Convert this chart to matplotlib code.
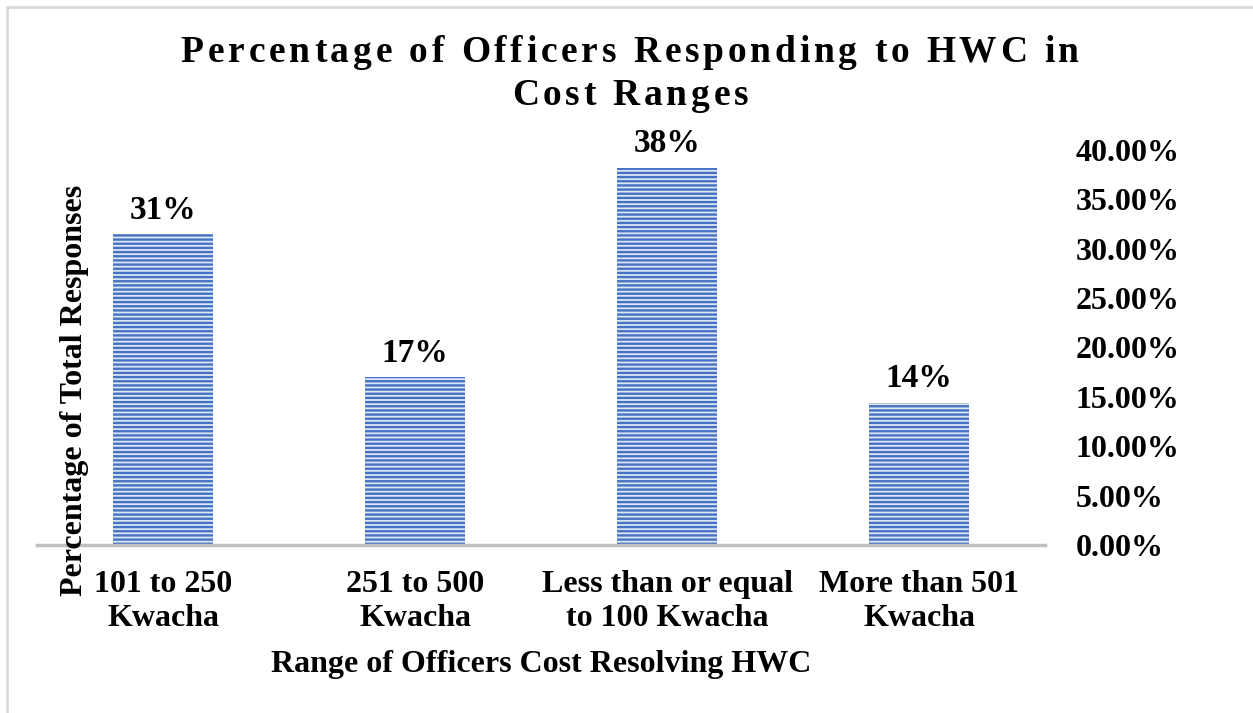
import matplotlib.pyplot as plt
from matplotlib.patches import Rectangle
from matplotlib.font_manager import FontProperties

categories = ['101 to 250\nKwacha', '251 to 500\nKwacha',
              'Less than or equal\nto 100 Kwacha', 'More than 501\nKwacha']
shares = [0.315, 0.170, 0.382, 0.144]
bar_labels = ['31%', '17%', '38%', '14%']
yticks = [0.0, 0.05, 0.10, 0.15, 0.20, 0.25, 0.30, 0.35, 0.40]
title_lines = ['Percentage of Officers Responding to HWC in', 'Cost Ranges']

plt.rcParams['font.family'] = ['Liberation Serif', 'DejaVu Serif']
plt.rcParams['font.weight'] = 'bold'
plt.rcParams['hatch.linewidth'] = 1.7

W, H = 1253, 713
fig = plt.figure(figsize=(W / 100, H / 100), dpi=100)
fig.patches.append(Rectangle((7 / W, -0.1), 1.1, 1.1 - 7 / H,
                             transform=fig.transFigure, fill=False,
                             edgecolor='#d9d9d9', linewidth=2))
ax = fig.add_axes([37 / W, 1 - 545 / H, 1008 / W, 395 / H])

x = range(len(categories))
bars = ax.bar(x, shares, width=0.4, color='#dde6f5', edgecolor='#4472c4',
              hatch='----', linewidth=0)
for b, lab in zip(bars, bar_labels):
    ax.annotate(lab, (b.get_x() + b.get_width() / 2, b.get_height()),
                xytext=(0, 6), textcoords='offset points',
                ha='center', va='bottom', fontsize=24, fontweight='bold')

ax.set_xlim(-0.5, 3.5)
ax.set_ylim(0, 0.40)
ax.set_xticks(list(x))
ax.set_xticklabels(categories, fontsize=23, fontweight='bold',
                   linespacing=1.25)
ax.tick_params(axis='x', length=0, pad=18)
ax.yaxis.tick_right()
ax.set_yticks(yticks)
ax.set_yticklabels(['{:.2f}%'.format(v * 100) for v in yticks],
                   fontsize=23, fontweight='bold')
ax.tick_params(axis='y', length=0, pad=22)
for s in ['top', 'left', 'right']:
    ax.spines[s].set_visible(False)
ax.spines['bottom'].set_color('#bfbfbf')
ax.spines['bottom'].set_linewidth(2.5)

ax.set_xlabel('Range of Officers Cost Resolving HWC', fontsize=23,
              fontweight='bold', labelpad=12)
fig.text(75 / W, 1 - 390 / H, 'Percentage of Total Responses',
         rotation=90, ha='center', va='center', fontsize=23,
         fontweight='bold')

# title with expanded letter spacing, drawn char by char
renderer = fig.canvas.get_renderer()
prop = FontProperties(family=['Liberation Serif', 'DejaVu Serif'],
                      weight='bold', size=27)
spacing = 3.8
for line, base_y in zip(title_lines, [62, 105]):
    widths = [renderer.get_text_width_height_descent(c, prop, ismath=False)[0]
              for c in line]
    total = sum(widths) + spacing * (len(line) - 1)
    xpos = 630 - total / 2
    for c, w in zip(line, widths):
        fig.text(xpos / W, 1 - base_y / H, c, fontproperties=prop,
                 ha='left', va='baseline')
        xpos += w + spacing

plt.savefig('out.png', dpi=100)
